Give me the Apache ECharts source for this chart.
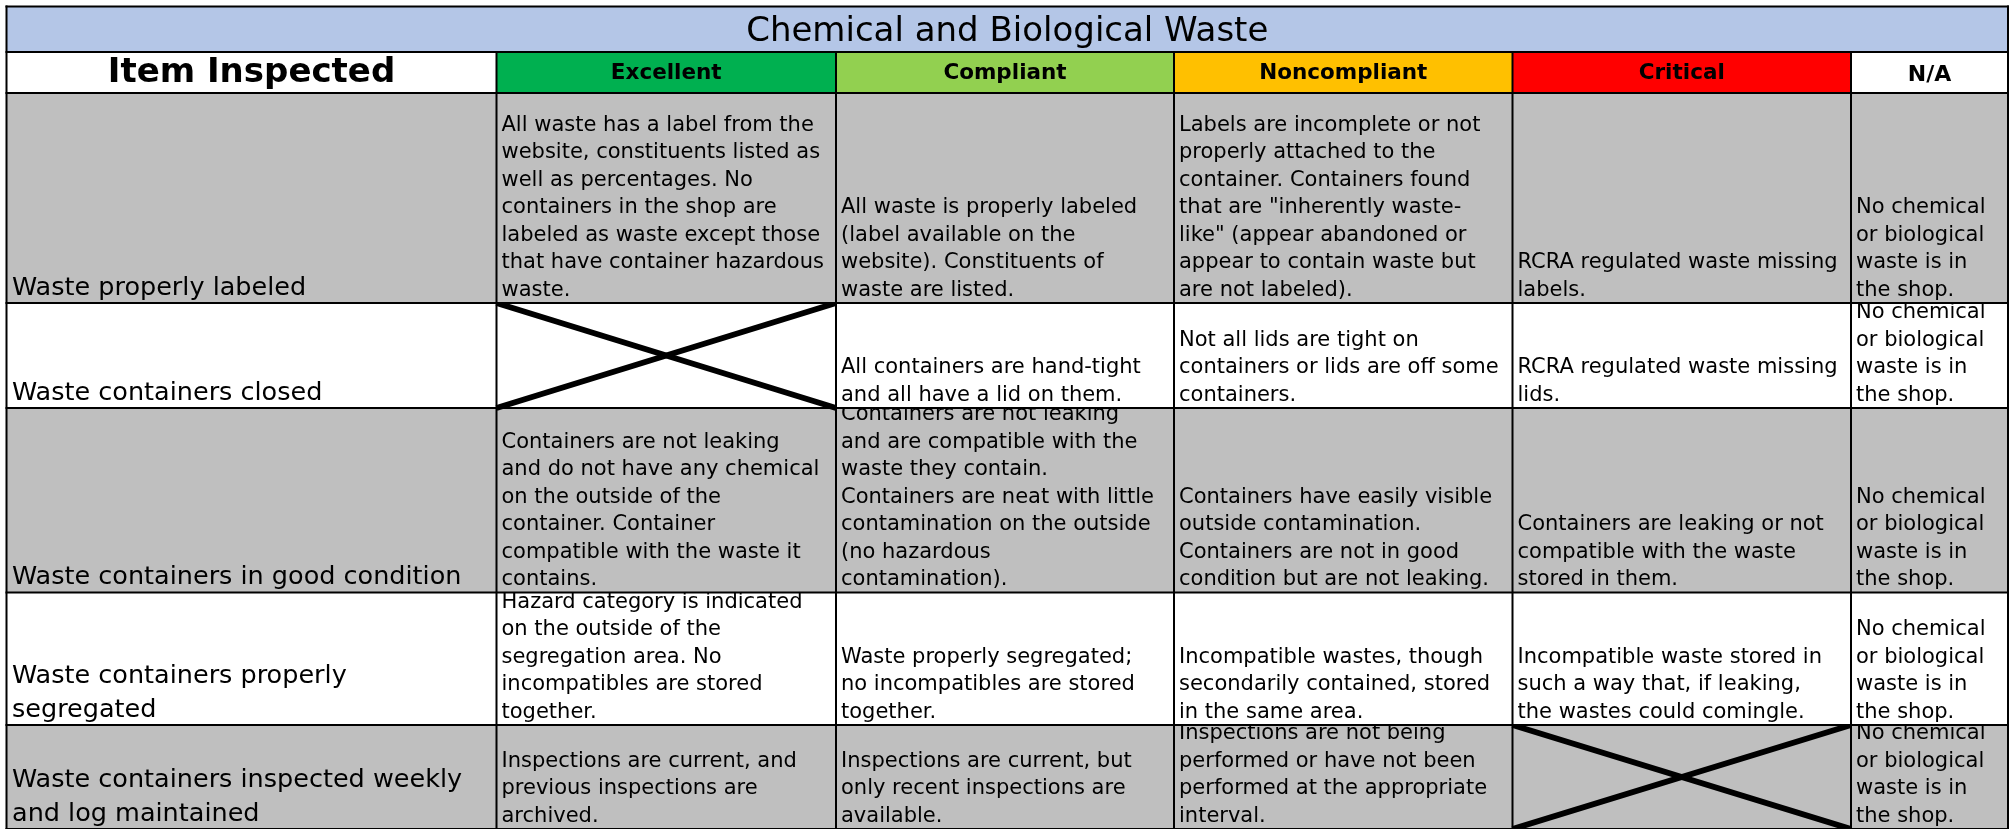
<!DOCTYPE html>
<html>
<head>
<meta charset="utf-8">
<script src="https://cdn.jsdelivr.net/npm/echarts@6/dist/echarts.min.js"></script>
<style>
  html, body { margin: 0; padding: 0; background: #ffffff; }
  #chart { width: 2011px; height: 829px; }
</style>
</head>
<body>
<div id="chart"></div>
<script>
// ---------------- DATA ----------------
const tableTitle = 'Chemical and Biological Waste';
const itemHeader = 'Item Inspected';
const ratingLevels = ['Excellent', 'Compliant', 'Noncompliant', 'Critical', 'N/A'];

const itemsInspected = [
  'Waste properly labeled',
  'Waste containers closed',
  'Waste containers in good condition',
  'Waste containers properly\nsegregated',
  'Waste containers inspected weekly\nand log maintained'
];

// null = not applicable (drawn as a crossed-out cell)
const excellentCriteria = [
  'All waste has a label from the\nwebsite, constituents listed as\nwell as percentages. No\ncontainers in the shop are\nlabeled as waste except those\nthat have container hazardous\nwaste.',
  null,
  'Containers are not leaking\nand do not have any chemical\non the outside of the\ncontainer. Container\ncompatible with the waste it\ncontains.',
  'Hazard category is indicated\non the outside of the\nsegregation area. No\nincompatibles are stored\ntogether.',
  'Inspections are current, and\nprevious inspections are\narchived.'
];

const compliantCriteria = [
  'All waste is properly labeled\n(label available on the\nwebsite). Constituents of\nwaste are listed.',
  'All containers are hand-tight\nand all have a lid on them.',
  'Containers are not leaking\nand are compatible with the\nwaste they contain.\nContainers are neat with little\ncontamination on the outside\n(no hazardous\ncontamination).',
  'Waste properly segregated;\nno incompatibles are stored\ntogether.',
  'Inspections are current, but\nonly recent inspections are\navailable.'
];

const noncompliantCriteria = [
  'Labels are incomplete or not\nproperly attached to the\ncontainer. Containers found\nthat are "inherently waste-\nlike" (appear abandoned or\nappear to contain waste but\nare not labeled).',
  'Not all lids are tight on\ncontainers or lids are off some\ncontainers.',
  'Containers have easily visible\noutside contamination.\nContainers are not in good\ncondition but are not leaking.',
  'Incompatible wastes, though\nsecondarily contained, stored\nin the same area.',
  'Inspections are not being\nperformed or have not been\nperformed at the appropriate\ninterval.'
];

const criticalCriteria = [
  'RCRA regulated waste missing\nlabels.',
  'RCRA regulated waste missing\nlids.',
  'Containers are leaking or not\ncompatible with the waste\nstored in them.',
  'Incompatible waste stored in\nsuch a way that, if leaking,\nthe wastes could comingle.',
  null
];

const naCriteria = [
  'No chemical\nor biological\nwaste is in\nthe shop.',
  'No chemical\nor biological\nwaste is in\nthe shop.',
  'No chemical\nor biological\nwaste is in\nthe shop.',
  'No chemical\nor biological\nwaste is in\nthe shop.',
  'No chemical\nor biological\nwaste is in\nthe shop.'
];

// ---------------- LAYOUT / STYLE ----------------
const colWidths = [490, 339.5, 338, 338.5, 338.5, 157];
const rowHeights = [45.5, 41, 210, 105, 184.5, 132.5, 104];
const levelFills = ['#00B050', '#92D050', '#FFC000', '#FF0000', '#FFFFFF'];
const titleFill = '#B4C6E7';
const bandFills = ['#BFBFBF', '#FFFFFF'];
const FONT = '"DejaVu Sans", Verdana, sans-serif';

function edges(sizes) {
  const e = [0];
  sizes.forEach(s => e.push(e[e.length - 1] + s));
  return e;
}
const colEdges = edges(colWidths);
const rowEdges = edges(rowHeights);
const totalW = colEdges[colEdges.length - 1];
const totalH = rowEdges[rowEdges.length - 1];

// ---------------- CELLS ----------------
const cells = [];
cells.push({ c0: 0, c1: 6, r: 0, text: tableTitle, fill: titleFill, kind: 'title' });
cells.push({ c0: 0, c1: 1, r: 1, text: itemHeader, fill: '#FFFFFF', kind: 'itemHead' });
ratingLevels.forEach((lv, i) => {
  cells.push({ c0: i + 1, c1: i + 2, r: 1, text: lv, fill: levelFills[i], kind: i === 4 ? 'naHead' : 'levelHead' });
});
const criteria = [excellentCriteria, compliantCriteria, noncompliantCriteria, criticalCriteria, naCriteria];
itemsInspected.forEach((item, k) => {
  const r = k + 2;
  const fill = bandFills[k % 2];
  cells.push({ c0: 0, c1: 1, r, text: item, fill, kind: 'item' });
  criteria.forEach((arr, i) => {
    const t = arr[k];
    cells.push({ c0: i + 1, c1: i + 2, r, text: t, fill, kind: t === null ? 'cross' : 'body' });
  });
});

const cellData = cells.map(c => [colEdges[c.c0], rowEdges[c.r], colEdges[c.c1], rowEdges[c.r + 1]]);

// grid lines: horizontal at every row edge, vertical at every column edge (below the title band)
const borderData = [];
rowEdges.forEach(y => borderData.push([0, y, totalW, y]));
colEdges.forEach((x, i) => {
  const top = (i === 0 || i === colEdges.length - 1) ? rowEdges[0] : rowEdges[1];
  borderData.push([x, top, x, totalH]);
});

function cellTextStyle(cell, x0, y0, x1, y1) {
  const base = { text: cell.text, fill: '#000000', fontFamily: FONT };
  switch (cell.kind) {
    case 'title':
      return Object.assign(base, { x: (x0 + x1) / 2, y: y1 - 19.5, fontSize: 34, align: 'center', verticalAlign: 'middle' });
    case 'itemHead':
      return Object.assign(base, { x: (x0 + x1) / 2, y: y1 - 19.8, fontSize: 34, fontWeight: 'bold', align: 'center', verticalAlign: 'middle' });
    case 'levelHead':
      return Object.assign(base, { x: (x0 + x1) / 2, y: y1 - 19.3, fontSize: 21.5, fontWeight: 'bold', align: 'center', verticalAlign: 'middle' });
    case 'naHead':
      return Object.assign(base, { x: (x0 + x1) / 2, y: y1 - 17.8, fontSize: 22, fontWeight: 'bold', align: 'center', verticalAlign: 'middle' });
    case 'item':
      return Object.assign(base, { x: x0 + 5.5, y: y1 + 2, fontSize: 25.5, lineHeight: 34, align: 'left', verticalAlign: 'bottom' });
    default:
      return Object.assign(base, { x: x0 + 5, y: y1 + 0.8, fontSize: 21, lineHeight: 27.5, align: 'left', verticalAlign: 'bottom' });
  }
}

const chart = echarts.init(document.getElementById('chart'), null, { renderer: 'canvas' });
chart.setOption({
  animation: false,
  backgroundColor: '#FFFFFF',
  grid: { left: 6.5, top: 6.5, width: totalW, height: totalH },
  xAxis: { type: 'value', min: 0, max: totalW, show: false },
  yAxis: { type: 'value', min: 0, max: totalH, inverse: true, show: false },
  series: [
    {
      type: 'custom',
      name: 'cells',
      clip: false,
      silent: true,
      z: 2,
      data: cellData,
      renderItem: function (params, api) {
        const cell = cells[params.dataIndex];
        const p0 = api.coord([api.value(0), api.value(1)]);
        const p1 = api.coord([api.value(2), api.value(3)]);
        const x0 = p0[0], y0 = p0[1], x1 = p1[0], y1 = p1[1];
        const zb = (rowEdges.length - cell.r) * 3;
        const children = [{
          type: 'rect',
          shape: { x: x0, y: y0, width: x1 - x0, height: y1 - y0 },
          style: { fill: cell.fill },
          z2: zb
        }];
        if (cell.kind === 'cross') {
          children.push({ type: 'line', shape: { x1: x0, y1: y0, x2: x1, y2: y1 }, style: { stroke: '#000000', lineWidth: 6 }, z2: zb + 1 });
          children.push({ type: 'line', shape: { x1: x0, y1: y1, x2: x1, y2: y0 }, style: { stroke: '#000000', lineWidth: 6 }, z2: zb + 1 });
        } else {
          children.push({ type: 'text', style: cellTextStyle(cell, x0, y0, x1, y1), z2: zb + 2 });
        }
        return { type: 'group', children };
      }
    },
    {
      type: 'custom',
      name: 'borders',
      clip: false,
      silent: true,
      z: 5,
      data: borderData,
      renderItem: function (params, api) {
        const a = api.coord([api.value(0), api.value(1)]);
        const b = api.coord([api.value(2), api.value(3)]);
        return {
          type: 'line',
          shape: { x1: a[0], y1: a[1], x2: b[0], y2: b[1] },
          style: { stroke: '#000000', lineWidth: 2, lineCap: 'square' }
        };
      }
    }
  ]
});
</script>
</body>
</html>
